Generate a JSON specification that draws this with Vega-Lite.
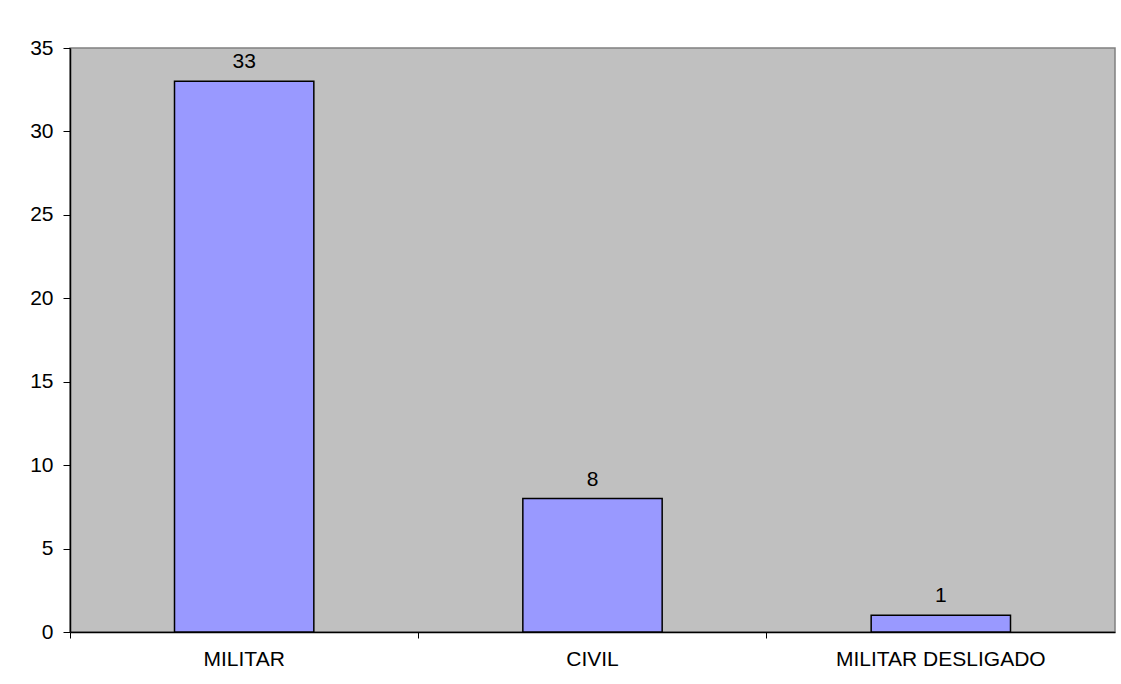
{
  "$schema": "https://vega.github.io/schema/vega-lite/v6.json",
  "autosize": {"type": "none"},
  "width": 1045,
  "height": 584,
  "padding": {"left": 70, "top": 48, "right": 6, "bottom": 52},
  "background": "white",
  "config": {
    "font": "Liberation Sans",
    "view": {"fill": "#C0C0C0", "stroke": "#808080", "strokeWidth": 1.5},
    "axis": {
      "domainColor": "black",
      "domainWidth": 1.5,
      "tickColor": "black",
      "labelColor": "black",
      "labelFont": "Liberation Sans",
      "labelFontSize": 21,
      "labelLimit": 0,
      "grid": false,
      "title": null
    }
  },
  "data": {
    "values": [
      {"tipo": "MILITAR", "total": 33},
      {"tipo": "CIVIL", "total": 8},
      {"tipo": "MILITAR DESLIGADO", "total": 1}
    ]
  },
  "encoding": {
    "x": {
      "field": "tipo",
      "type": "nominal",
      "sort": null,
      "scale": {"paddingInner": 0, "paddingOuter": 0},
      "axis": {"labelAngle": 0, "bandPosition": 0, "tickSize": 6, "labelPadding": 10, "labelAlign": "center"}
    },
    "y": {
      "field": "total",
      "type": "quantitative",
      "scale": {"domain": [0, 35], "nice": false},
      "axis": {"values": [0, 5, 10, 15, 20, 25, 30, 35], "tickSize": 7, "labelPadding": 10}
    }
  },
  "layer": [
    {
      "mark": {"type": "bar", "width": {"band": 0.4}, "color": "#9999FF", "stroke": "black", "strokeWidth": 1.5}
    },
    {
      "mark": {"type": "text", "baseline": "alphabetic", "dy": -13, "fontSize": 21, "color": "black", "font": "Liberation Sans"},
      "encoding": {"text": {"field": "total", "type": "quantitative"}}
    }
  ]
}
